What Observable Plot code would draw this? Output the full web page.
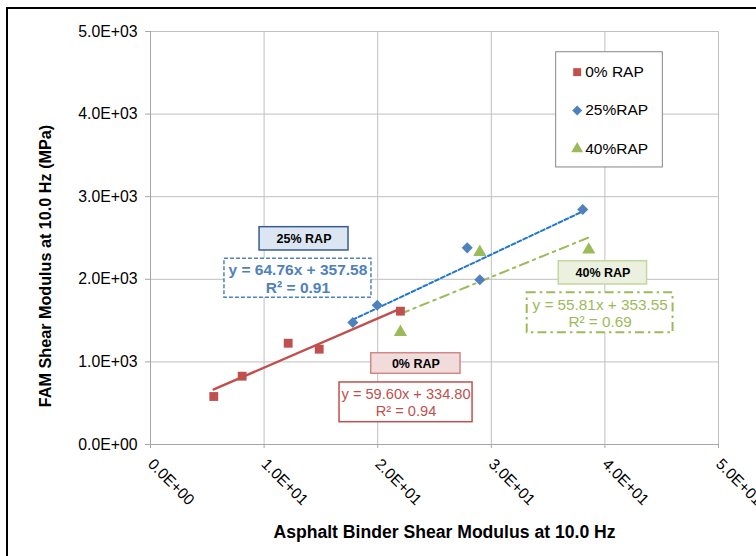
<!DOCTYPE html>
<html>
<head>
<meta charset="utf-8">
<script src="https://cdn.jsdelivr.net/npm/d3@7"></script>
<script src="https://cdn.jsdelivr.net/npm/@observablehq/plot@0.6"></script>
<style>
  html, body { margin: 0; padding: 0; background: #fff; width: 756px; height: 556px; overflow: hidden; }
  #frame { position: absolute; left: 6px; top: 7px; width: 900px; height: 700px; border: 2px solid #000; box-sizing: border-box; }
  #chart { position: absolute; left: 0; top: 0; }
</style>
</head>
<body>
<div id="frame"></div>
<div id="chart"></div>
<script>
// ---- data ----
const seriesNames = ["0% RAP", "25%RAP", "40%RAP"];
const rap0X = [5.57, 8.07, 12.12, 14.85, 22.0];
const rap0Y = [581, 827, 1226, 1154, 1614];
const rap25X = [17.81, 19.96, 27.88, 28.99, 38.05];
const rap25Y = [1477, 1686, 2381, 1994, 2845];
const rap40X = [22.0, 28.99, 38.58];
const rap40Y = [1360, 2328, 2357];
const slopes = [59.60, 64.76, 55.81];
const intercepts = [334.80, 357.58, 353.55];
const r2 = [0.94, 0.91, 0.69];
const tagNames = ["0% RAP", "25% RAP", "40% RAP"];
const xTicks = [0, 10, 20, 30, 40, 50];
const yTicks = [0, 1000, 2000, 3000, 4000, 5000];
const xTitle = "Asphalt Binder Shear Modulus at 10.0 Hz";
const yTitle = "FAM Shear Modulus at 10.0 Hz (MPa)";

// ---- styling / layout ----
const colors = ["#c0504d", "#4f81bd", "#9bbb59"];
const lineColors = ["#c0504d", "#1f77d0", "#9bbb59"];
const symbols = ["square", "diamond2", "triangle"];
const radii = [5.0, 5.0, 4.9];
const dashes = [null, "4,2.5", "9,5,2.5,5"];
const FONT = "'Liberation Sans', Arial, sans-serif";

function sci(d) {
  if (d === 0) return "0.0E+00";
  const e = Math.floor(Math.log10(Math.abs(d)));
  const m = d / Math.pow(10, e);
  return m.toFixed(1) + "E" + (e < 0 ? "-" : "+") + String(Math.abs(e)).padStart(2, "0");
}

const xs = [rap0X, rap25X, rap40X];
const ys = [rap0Y, rap25Y, rap40Y];
const pts = xs.map((arr, i) => arr.map((x, j) => ({x, y: ys[i][j], s: i})));
const trends = xs.map((arr, i) => {
  const lo = d3.min(arr), hi = d3.max(arr);
  return [lo, hi].map(x => ({x, y: slopes[i] * x + intercepts[i]}));
});

// annotation layout (data units)
const tagBoxes = [
  {x1: 19.43, x2: 27.29, y1: 856, y2: 1105, fill: "#f2dcdb", stroke: "#d08987"},
  {x1: 9.6, x2: 17.43, y1: 2349, y2: 2631, fill: "#dce6f2", stroke: "#385d8a"},
  {x1: 35.94, x2: 43.71, y1: 1937, y2: 2219, fill: "#ebf1de", stroke: "#c3d69b"}
].map((b, i) => ({...b, label: tagNames[i]}));
const eqBoxes = [
  {x1: 16.64, x2: 28.35, y1: 270, y2: 751, dash: null, width: 1.5, bold: "normal", size: 14.6},
  {x1: 6.51, x2: 19.45, y1: 1776, y2: 2248, dash: "4,2", width: 1.5, bold: "bold", size: 15.5},
  {x1: 33.16, x2: 46.0, y1: 1353, y2: 1837, dash: "9,4,2.5,4", width: 2, bold: "normal", size: 15.3}
].map((b, i) => ({...b, i,
  label: "y = " + slopes[i].toFixed(2) + "x + " + intercepts[i].toFixed(2) + "\nR² = " + r2[i].toFixed(2)}));
const legendBox = {x1: 35.71, x2: 45.10, y1: 3354, y2: 4749};
const legendRows = seriesNames.map((name, i) => ({name, i, x: 37.56, y: [4508, 4044, 3580][i]}));

const marks = [
  Plot.gridX(xTicks, {stroke: "#bfbfbf", strokeOpacity: 1}),
  Plot.gridY(yTicks, {stroke: "#bfbfbf", strokeOpacity: 1}),
  Plot.ruleX([0], {stroke: "#a6a6a6"}),
  Plot.ruleY([0], {stroke: "#a6a6a6"}),
  Plot.axisY(yTicks, {tickFormat: sci, tickSize: 5, tickPadding: 8, stroke: "#a6a6a6", fill: "#000", fontSize: 15.8, label: null}),
  Plot.axisX(xTicks, {tickFormat: sci, tickSize: 4, tickPadding: 13, tickRotate: 45, textAnchor: "start", lineAnchor: "middle", stroke: "#a6a6a6", fill: "#000", fontSize: 15.5, label: null}),
];
trends.forEach((t, i) => {
  marks.push(Plot.line(t, {x: "x", y: "y", stroke: lineColors[i], strokeWidth: i === 0 ? 2.5 : 2, strokeDasharray: dashes[i]}));
});
pts.forEach((p, i) => {
  marks.push(Plot.dot(p, {x: "x", y: "y", fill: colors[i], symbol: symbols[i], r: radii[i]}));
});
// tag boxes
marks.push(Plot.rect(tagBoxes, {x1: "x1", x2: "x2", y1: "y1", y2: "y2", fill: "fill", stroke: "stroke", strokeWidth: 1.5}));
marks.push(Plot.text(tagBoxes, {x: d => (d.x1 + d.x2) / 2, y: d => (d.y1 + d.y2) / 2, text: "label", fontWeight: "bold", fontSize: 12.5, fill: "#000"}));
// equation boxes
eqBoxes.forEach(b => {
  marks.push(Plot.rect([b], {x1: "x1", x2: "x2", y1: "y1", y2: "y2", fill: "#fff", stroke: colors[b.i], strokeWidth: b.width, strokeDasharray: b.dash}));
  marks.push(Plot.text([b], {x: d => (d.x1 + d.x2) / 2, y: d => (d.y1 + d.y2) / 2, text: "label", fill: colors[b.i], fontSize: b.size, fontWeight: b.bold, lineHeight: 1.12}));
});
// legend
marks.push(Plot.rect([legendBox], {x1: "x1", x2: "x2", y1: "y1", y2: "y2", fill: "#fff", stroke: "#868686", strokeWidth: 1}));
legendRows.forEach(r => {
  marks.push(Plot.dot([r], {x: "x", y: "y", fill: colors[r.i], symbol: symbols[r.i], r: radii[r.i] - 0.5}));
  marks.push(Plot.text([r], {x: "x", y: "y", dx: 8, text: "name", textAnchor: "start", fontSize: 15.5, fill: "#000"}));
});
// axis titles
marks.push(Plot.text([xTitle], {frameAnchor: "bottom", text: d => d, dx: 10, dy: 88, textAnchor: "middle", lineAnchor: "middle", fontWeight: "bold", fontSize: 17.6, fill: "#000"}));
marks.push(Plot.text([yTitle], {frameAnchor: "left", text: d => d, dx: -105, dy: 28, textAnchor: "middle", lineAnchor: "middle", rotate: -90, fontWeight: "bold", fontSize: 16.2, fill: "#000"}));

const chart = Plot.plot({
  width: 756,
  height: 556,
  marginLeft: 150,
  marginRight: 38,
  marginTop: 31,
  marginBottom: 112,
  x: {domain: [0, 50]},
  y: {domain: [0, 5000]},
  style: {fontFamily: FONT, fontSize: "15px", color: "#000", background: "transparent", overflow: "visible"},
  marks
});
document.getElementById("chart").appendChild(chart);
</script>
</body>
</html>
